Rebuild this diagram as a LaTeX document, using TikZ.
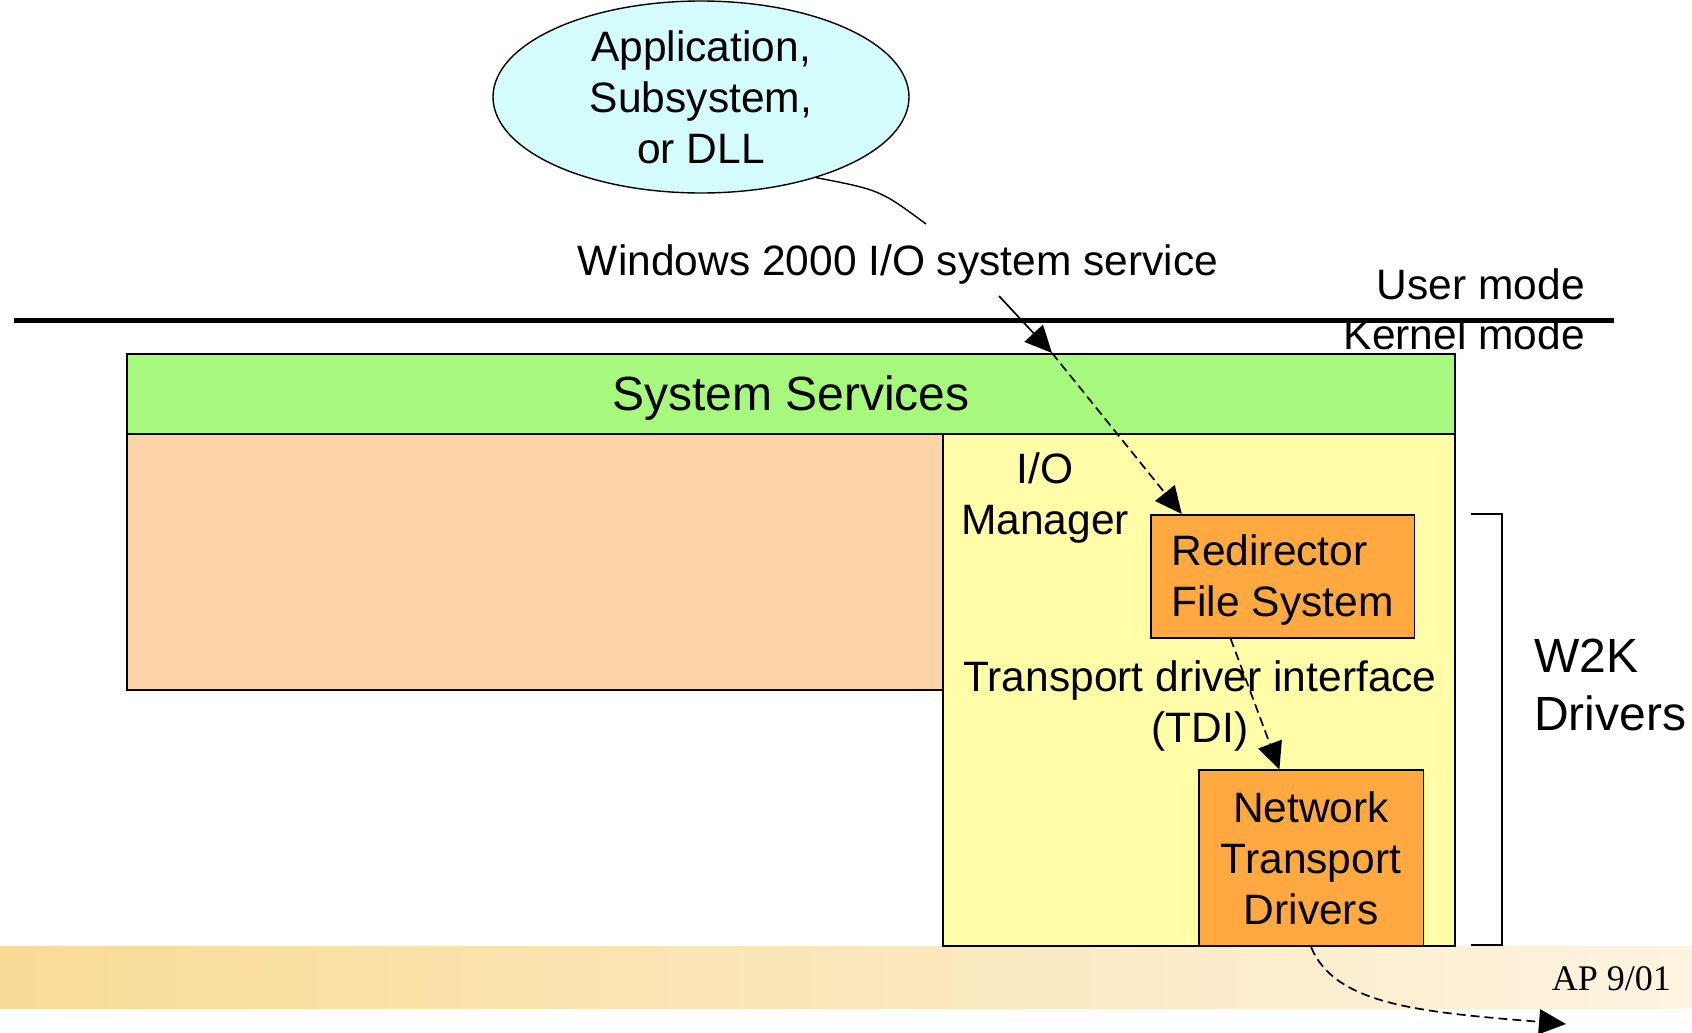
\documentclass[tikz,border=0pt]{standalone}
\usepackage{fontspec}
\setmainfont{Liberation Sans}
\newfontfamily\apfont{Liberation Serif}
\usetikzlibrary{shapes.geometric,arrows.meta,calc}

\definecolor{cloudfill}{HTML}{D4FCFC}
\definecolor{svcgreen}{HTML}{A6F97C}
\definecolor{peach}{HTML}{FDD3A8}
\definecolor{iomgr}{HTML}{FFFDA8}
\definecolor{drvorange}{HTML}{FFA940}
\definecolor{bandleft}{HTML}{F9DB96}
\definecolor{bandright}{HTML}{FDF3E0}

\tikzset{
  txt/.style={font=\fontsize{42.5}{51}\selectfont, inner sep=0pt, align=center},
  bigtxt/.style={font=\fontsize{48}{58}\selectfont, inner sep=0pt},
  panel/.style={draw=black, line width=1.6pt, anchor=north west, inner sep=0pt},
  drvbox/.style={panel, fill=drvorange, font=\fontsize{42.5}{51}\selectfont},
  flow/.style={line width=1.7pt, -{Triangle[length=27pt,width=25pt]}},
  dashflow/.style={flow, dash pattern=on 9pt off 5pt},
}

\begin{document}
\begin{tikzpicture}[x=1pt,y=-1pt]
  \useasboundingbox (0,0) rectangle (1692,1033);

  % footer band
  \shade[left color=bandleft, right color=bandright, draw=none]
    (0,946) rectangle (1692,1008);
  \node[font=\apfont\fontsize{36}{40}\selectfont, inner sep=0pt, anchor=east]
    (ap) at (1671,979) {AP 9/01};

  % caller in user mode
  \node[ellipse, draw=black, line width=1.4pt, fill=cloudfill, txt,
        minimum width=416pt, minimum height=192pt]
    (app) at (701,97) {Application,\\Subsystem,\\or DLL};
  \node[txt] (svc) at (898,265) {Windows 2000 I/O system service};
  \coordinate (calloutend) at (926,224);
  \draw[line width=1.4pt] (app.-35) .. controls (880,190) .. (calloutend);

  % user/kernel boundary
  \coordinate (lineL) at (14,320.5);
  \coordinate (lineR) at (1614,320.5);
  \draw[line width=5pt] (lineL) -- (lineR);
  \node[txt, anchor=east] (umode) at (1585,284) {User mode};
  \node[txt, anchor=east] (kmode) at (1585,334) {Kernel mode};

  % kernel panels
  \node[panel, fill=peach, minimum width=816pt, minimum height=256pt]
    (exec) at (126,433) {};
  \node[panel, fill=iomgr, minimum width=512pt, minimum height=512pt]
    (io) at (942,433) {};
  \node[panel, fill=svcgreen, minimum width=1328pt, minimum height=80pt]
    (sys) at (126,353) {};
  \node[bigtxt] (syslabel) at ($(sys.center)+(0,4)$) {System Services};

  \node[txt] (iolabel) at (1045,498) {I/O\\Manager};
  \node[txt] (tdi) at (1200,706) {Transport driver interface\\(TDI)};

  \node[drvbox, minimum width=263.5pt, minimum height=123pt]
    (redir) at (1150,514) {};
  \node[txt, align=left] (redirlabel) at ($(redir.center)+(0,4)$)
    {Redirector\\File System};
  \node[drvbox, minimum width=224.5pt, minimum height=176pt, align=center]
    (net) at (1198,769.4) {Network\\Transport\\Drivers};

  % W2K drivers bracket
  \coordinate (brA) at (1471,514);
  \coordinate (brB) at (1502,514);
  \coordinate (brC) at (1502,945);
  \coordinate (brD) at (1471,945);
  \draw[line width=1.4pt] (brA) -- (brB) -- (brC) -- (brD);
  \node[bigtxt, anchor=west, align=left] (w2k) at (1534,685) {W2K\\Drivers};

  % request path
  \coordinate (callstart) at (999,296);
  \coordinate (enter) at (1052,353);
  \coordinate (offpage) at (1566,1024);
  \draw[flow] (callstart) -- (enter);
  \draw[dashflow] (enter) -- ($(redir.north west)!0.12!(redir.north east)$);
  \draw[dashflow] ($(redir.south west)!0.304!(redir.south east)$)
    -- ($(net.north west)!0.36!(net.north east)$);
  \draw[dashflow] (net.south) .. controls (1335,1005) and (1420,1012) .. (offpage);
\end{tikzpicture}
\end{document}
